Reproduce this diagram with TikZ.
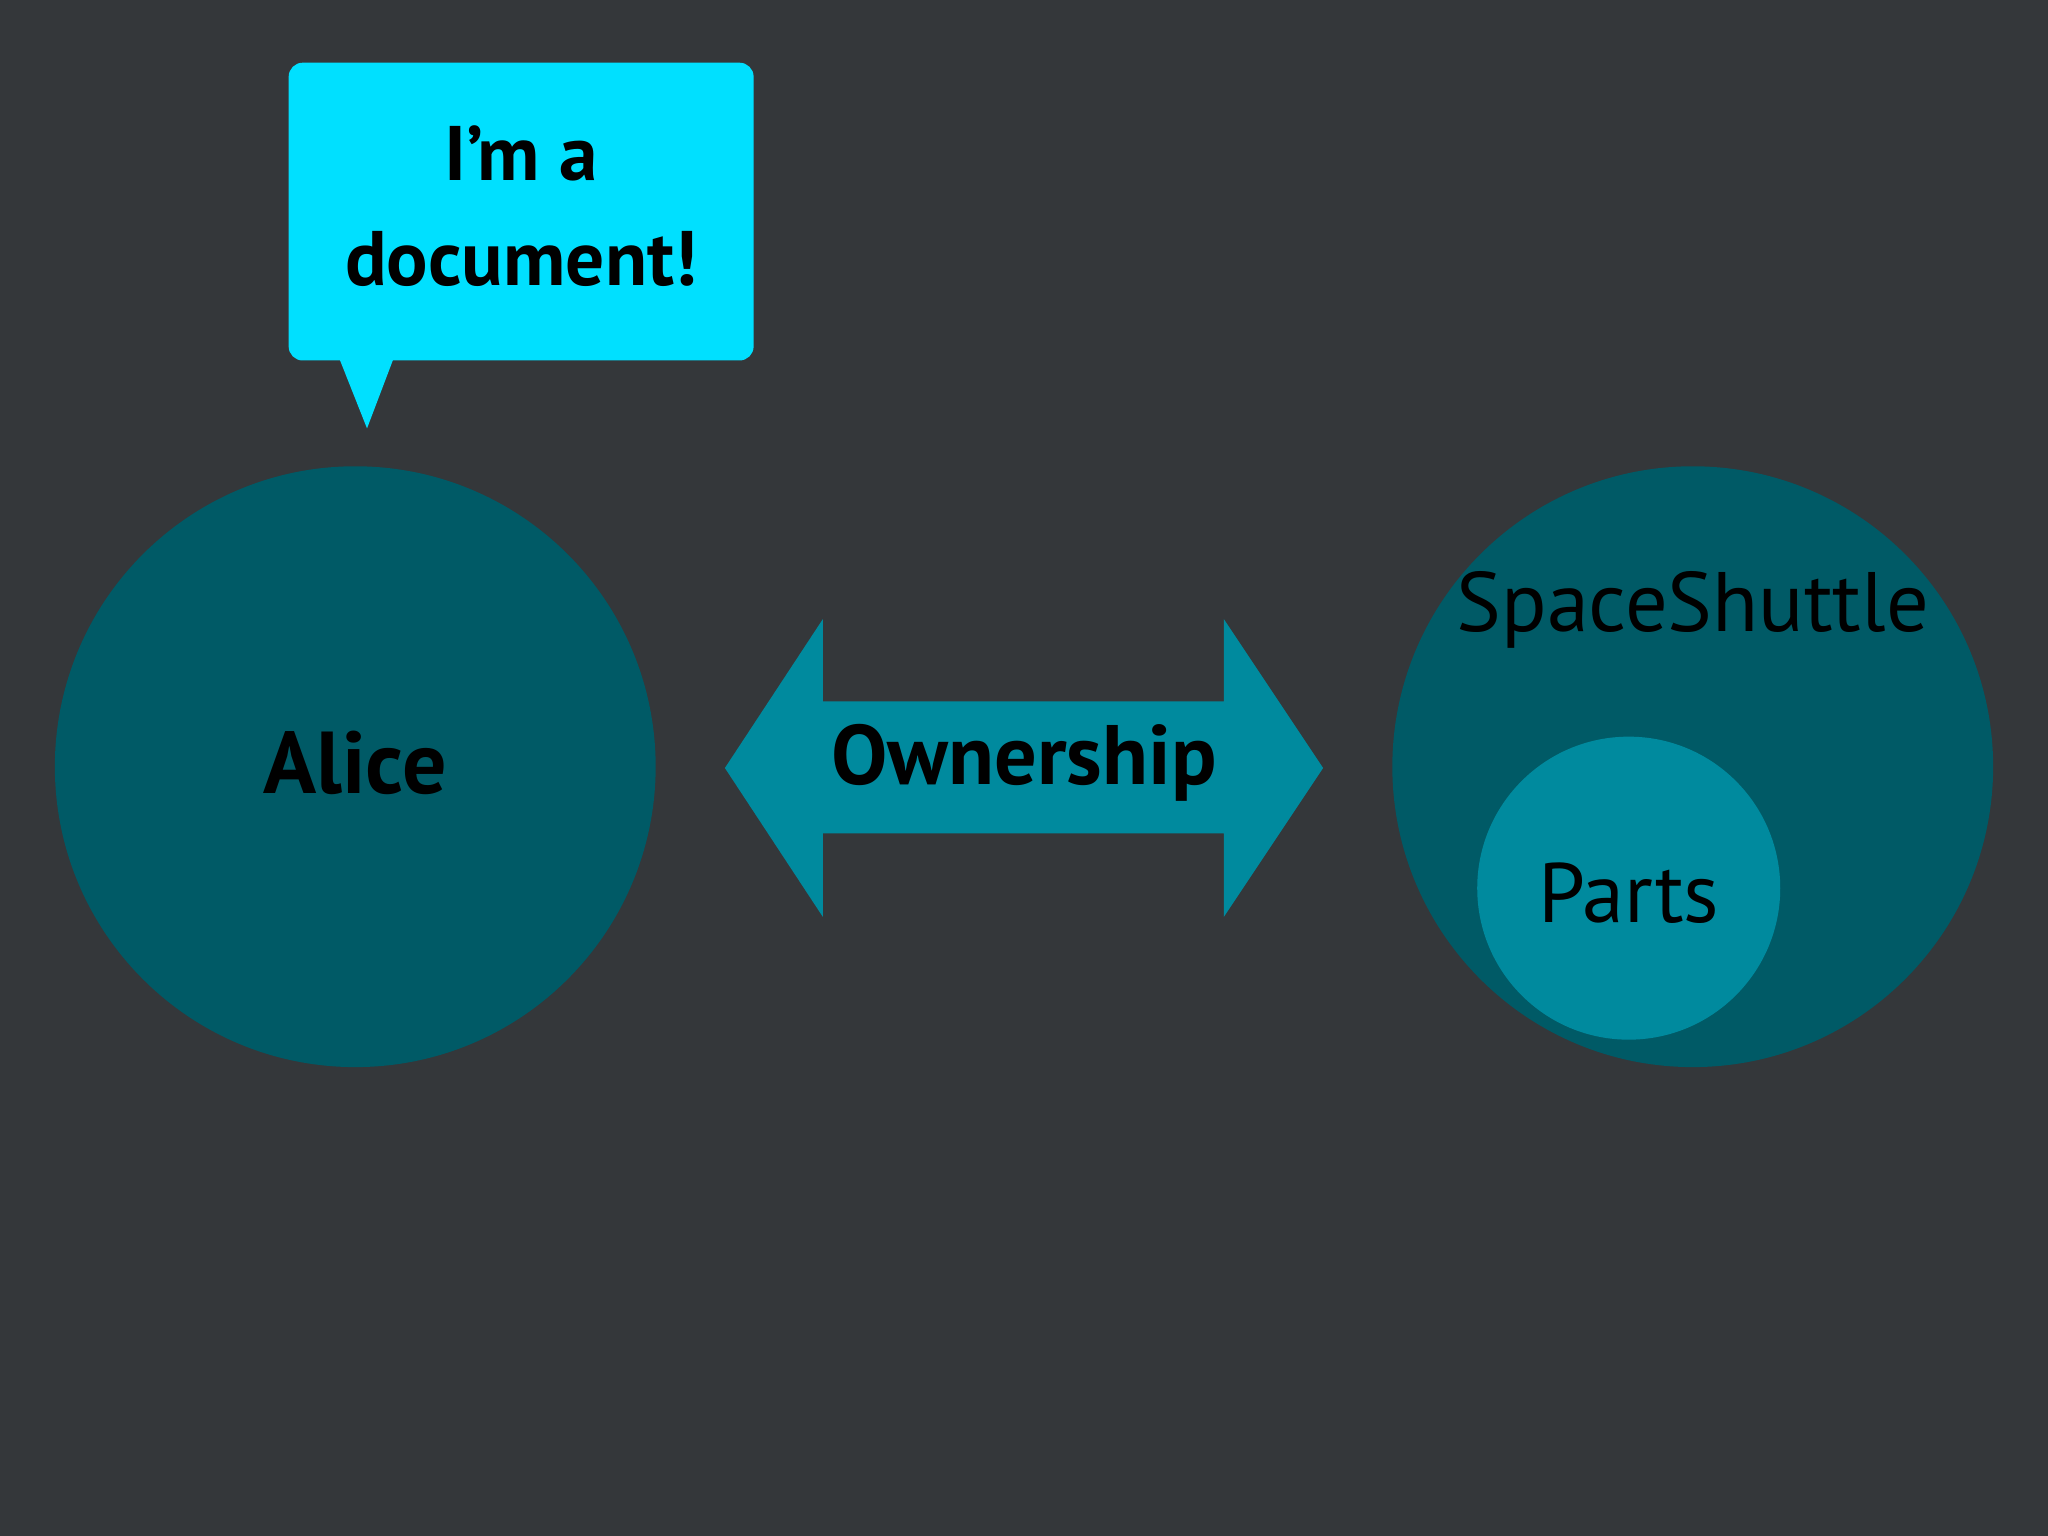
\documentclass[tikz,border=0pt]{standalone}
\usepackage{fontspec}
\setmainfont{PT Sans}
\definecolor{bg}{HTML}{34373A}
\definecolor{bubble}{HTML}{00E0FF}
\definecolor{darkteal}{HTML}{005A66}
\definecolor{midteal}{HTML}{008A9E}
\begin{document}
\begin{tikzpicture}[x=0.013061cm,y=-0.013061cm,
  lbl/.style={font=\fontsize{24}{28}\selectfont, text=black}]
\fill[bg] (0,0) rectangle (1568,1176);
\useasboundingbox (0,0) rectangle (1568,1176);
% bubble
\fill[bubble, rounded corners=4pt] (221,48) rectangle (577,276);
\fill[bubble] (258,270) -- (303,270) -- (281,328) -- cycle;
\node[lbl, font=\fontsize{22}{30}\selectfont\bfseries, align=center] (doc) at (399,158) {I’m a\\document!};
% Alice
\fill[darkteal] (272,587) circle (230);
\node[lbl, font=\fontsize{25}{30}\selectfont\bfseries] (alice) at (272,584) {Alice};
% arrow
\fill[midteal] (555,588) -- (630,474) -- (630,537) -- (937,537) -- (937,474) -- (1013,588) -- (937,702) -- (937,638) -- (630,638) -- (630,702) -- cycle;
\node[lbl, font=\fontsize{24}{30}\selectfont\bfseries] (own) at (784,584) {Ownership};
% SpaceShuttle
\fill[darkteal] (1296,587) circle (230);
\node[lbl] (ss) at (1296,467) {SpaceShuttle};
\fill[midteal] (1247,680) circle (116);
\node[lbl] (parts) at (1247,684) {Parts};
\end{tikzpicture}
\end{document}
